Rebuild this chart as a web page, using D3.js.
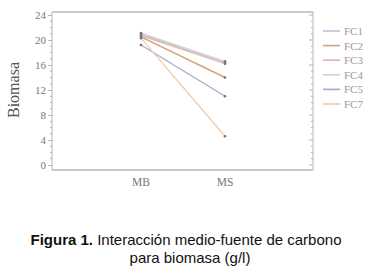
<!DOCTYPE html>
<html><head><meta charset="utf-8">
<script src="https://cdn.jsdelivr.net/npm/d3@7"></script>
<style>body{margin:0;background:#fff;}</style>
</head><body>
<svg id="c" width="373" height="272"></svg>
<script>
const categories = ["MB", "MS"];
const seriesNames = ["FC1", "FC2", "FC3", "FC4", "FC5", "FC7"];
const FC1 = [20.9, 16.4];
const FC2 = [20.5, 14.0];
const FC3 = [20.7, 16.2];
const FC4 = [21.1, 16.6];
const FC5 = [19.2, 11.0];
const FC7 = [20.3, 4.6];
const yTicks = [0, 4, 8, 12, 16, 20, 24];
const colors = ["#b8c3d3", "#d9a27a", "#e6b0ae", "#d6cfcf", "#aaa7c8", "#f3c9a6"];
const seriesVals = [FC1, FC2, FC3, FC4, FC5, FC7];

(function () {
const svg = d3.select("#c");
const pL = 52, pR = 313, pT = 12, pB = 170;
const y = d3.scaleLinear().domain([0, 24]).range([165, 15]);
const x = d3.scalePoint().domain(categories).range([141, 225]);
const axisCol = "#b5b5b5";
const txtCol = "#777";

svg.append("line").attr("x1", pL).attr("x2", pR).attr("y1", pT).attr("y2", pT).attr("stroke", "#999").attr("stroke-width", 1);
svg.append("line").attr("x1", pL).attr("x2", pR).attr("y1", pB).attr("y2", pB).attr("stroke", "#c8c8c8").attr("stroke-width", 2);

const gl = svg.append("g").attr("transform", `translate(${pL},0)`);
gl.call(d3.axisLeft(y).tickValues(yTicks).tickSize(4).tickFormat(d3.format("d")));
gl.select(".domain").remove();
gl.append("line").attr("x1", 0).attr("x2", 0).attr("y1", pT).attr("y2", pB).attr("stroke", axisCol);
gl.selectAll(".tick line").attr("stroke", axisCol);
gl.selectAll(".tick text").attr("fill", txtCol).attr("font-family", "Liberation Serif, serif").attr("font-size", 11).attr("x", -6);
const minor = d3.range(0, 25).filter(v => v % 4 !== 0);
gl.selectAll(".mn").data(minor).join("line").attr("x1", -2).attr("x2", 0)
  .attr("y1", d => y(d)).attr("y2", d => y(d)).attr("stroke", axisCol);

const gr = svg.append("g").attr("transform", `translate(${pR},0)`);
gr.append("line").attr("x1", 0).attr("x2", 0).attr("y1", pT).attr("y2", pB).attr("stroke", axisCol);
gr.selectAll(".mj").data(yTicks).join("line").attr("x1", -4).attr("x2", 0)
  .attr("y1", d => y(d)).attr("y2", d => y(d)).attr("stroke", axisCol);
gr.selectAll(".mn").data(minor).join("line").attr("x1", -2).attr("x2", 0)
  .attr("y1", d => y(d)).attr("y2", d => y(d)).attr("stroke", axisCol);

svg.selectAll(".xl").data(categories).join("text").attr("x", d => x(d)).attr("y", 186)
  .attr("text-anchor", "middle").attr("fill", txtCol).attr("font-family", "Liberation Serif, serif").attr("font-size", 11.5).text(d => d);

svg.append("text").attr("transform", "translate(19,90) rotate(-90)").attr("text-anchor", "middle")
  .attr("fill", "#555").attr("font-family", "Liberation Serif, serif").attr("font-size", 16).text("Biomasa");

const line = d3.line().x((d, i) => x(categories[i])).y(d => y(d));
seriesVals.forEach((vals, k) => {
  svg.append("path").attr("d", line(vals)).attr("fill", "none").attr("stroke", colors[k]).attr("stroke-width", k === 1 ? 1.6 : 1.2);
});
seriesVals.forEach((vals) => {
  svg.selectAll(null).data(vals).join("circle").attr("cx", (d, i) => x(categories[i])).attr("cy", d => y(d))
    .attr("r", 1.3).attr("fill", "#777");
});

const lg = svg.append("g");
seriesNames.forEach((n, k) => {
  const yy = 31 + k * 14.6;
  lg.append("line").attr("x1", 323).attr("x2", 340).attr("y1", yy).attr("y2", yy).attr("stroke", colors[k]).attr("stroke-width", 1.6);
  lg.append("text").attr("x", 344).attr("y", yy + 4).attr("fill", "#999").attr("font-family", "Liberation Serif, serif").attr("font-size", 11).text(n);
});

const cap = svg.append("text").attr("x", 186).attr("y", 245).attr("text-anchor", "middle")
  .attr("font-family", "Liberation Sans, Arial, sans-serif").attr("font-size", 15).attr("fill", "#111");
cap.append("tspan").attr("font-weight", "bold").text("Figura 1.");
cap.append("tspan").text(" Interacción medio-fuente de carbono");
svg.append("text").attr("x", 190).attr("y", 263).attr("text-anchor", "middle")
  .attr("font-family", "Liberation Sans, Arial, sans-serif").attr("font-size", 15).attr("fill", "#111").text("para biomasa (g/l)");
})();
</script>
</body></html>
